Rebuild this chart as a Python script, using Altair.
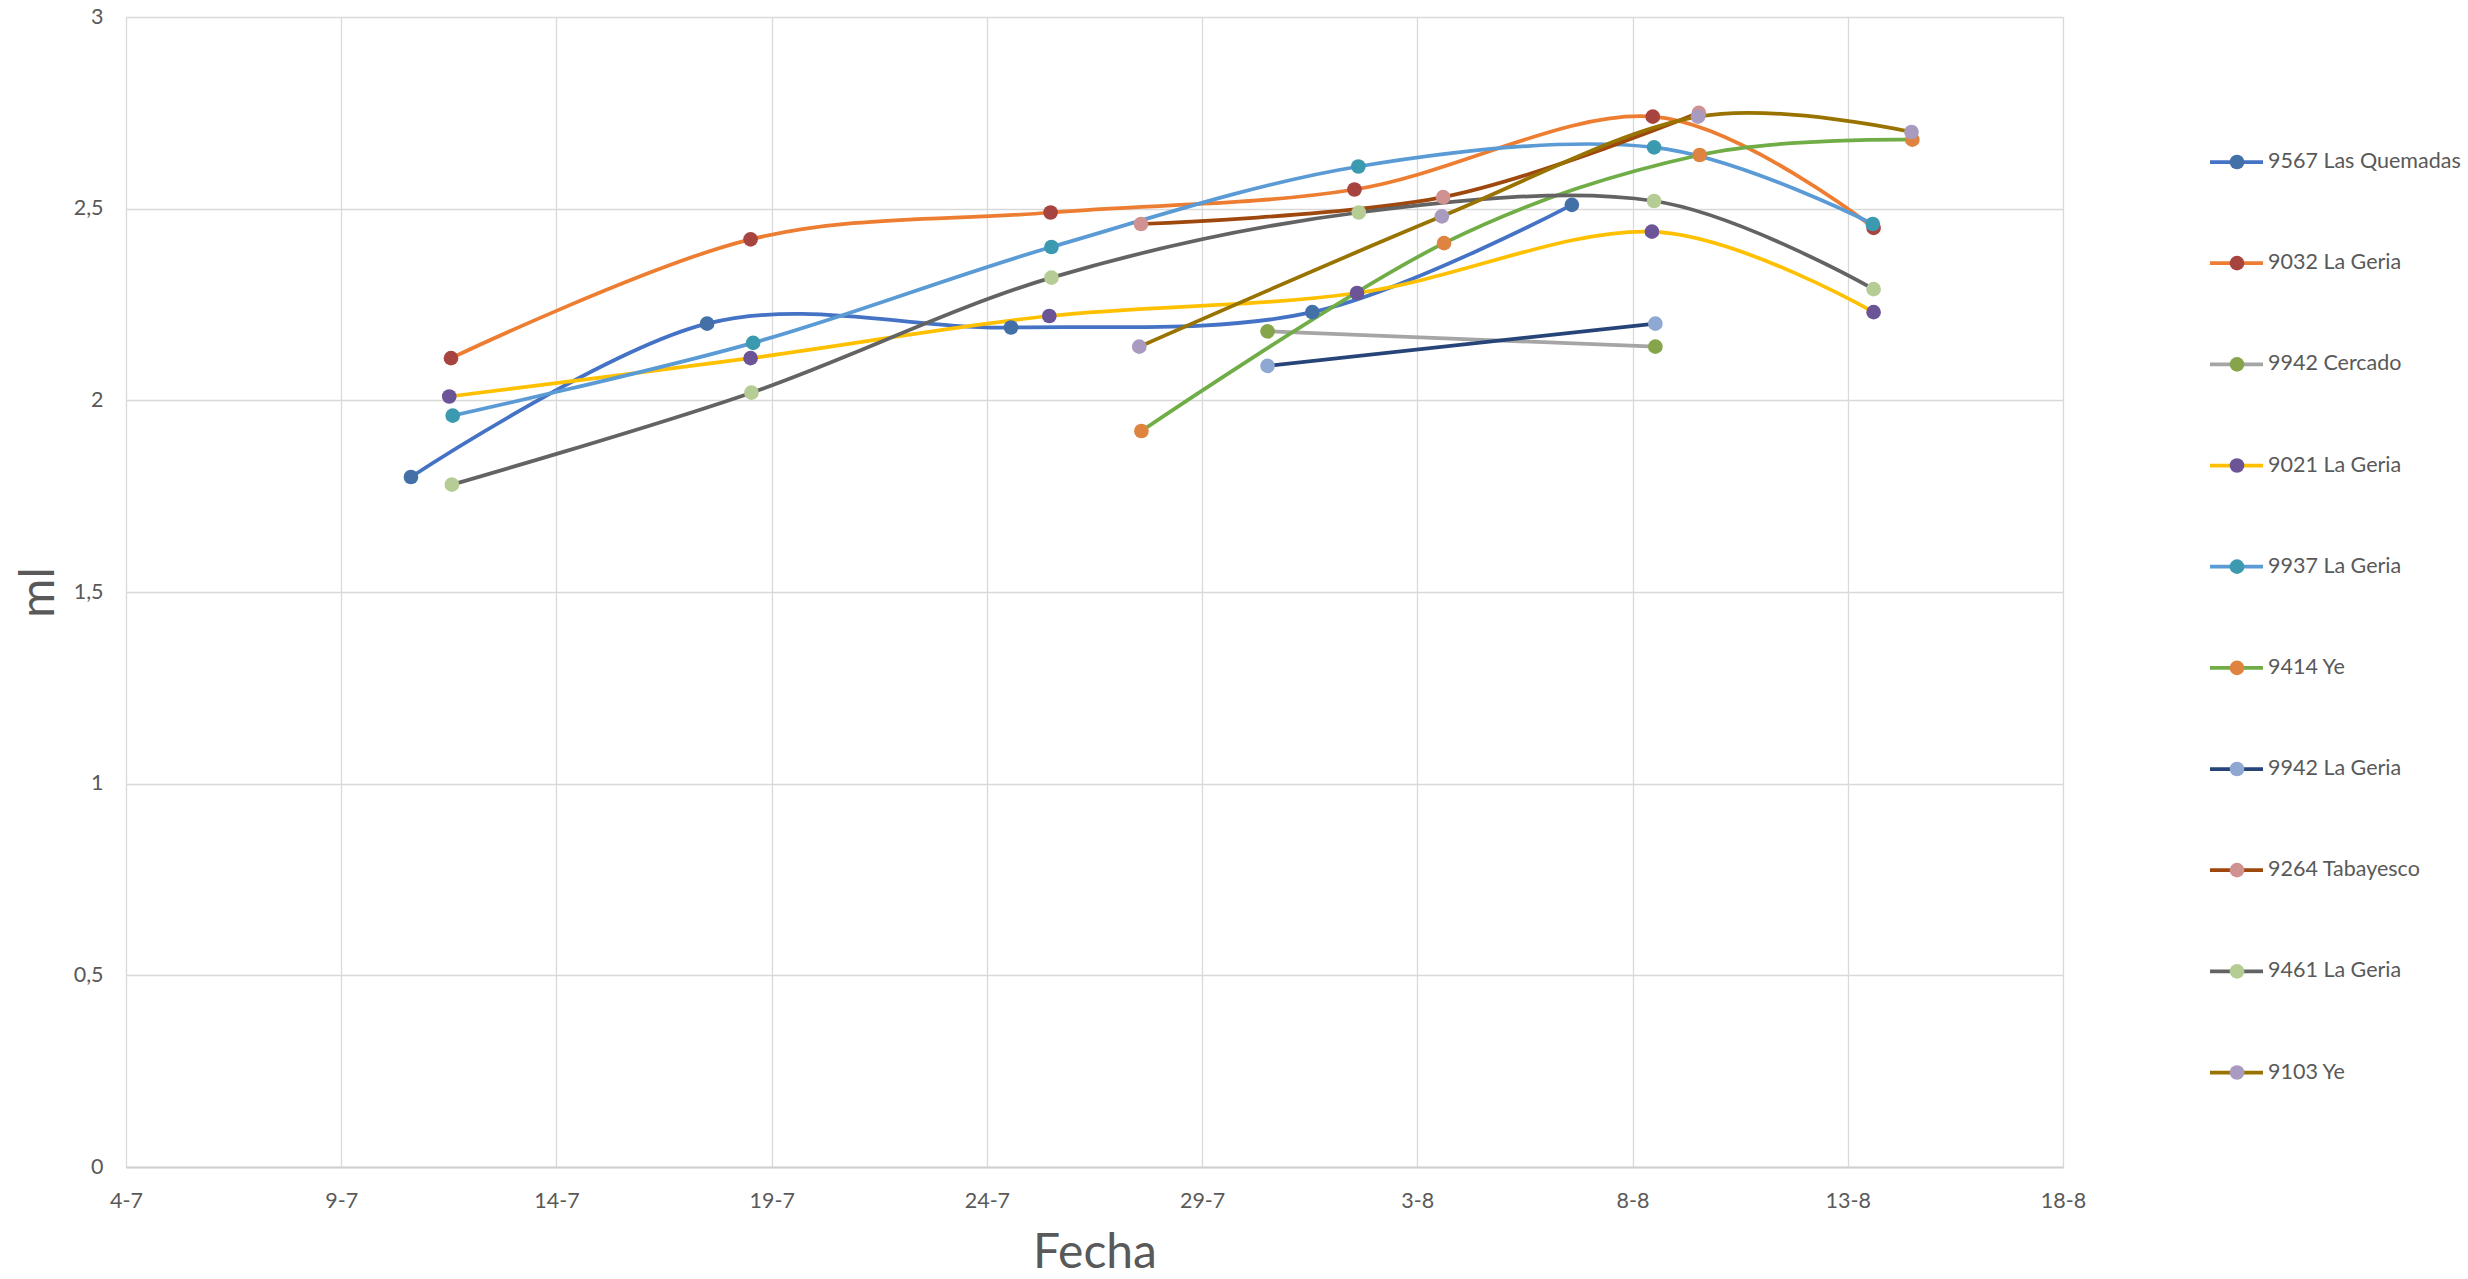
import altair as alt
import pandas as pd

# ---- data (x = day counted from 1 July; August d = 31 + d) ----
SERIES = ["9567 Las Quemadas", "9032 La Geria", "9942 Cercado", "9021 La Geria",
          "9937 La Geria", "9414 Ye", "9942 La Geria", "9264 Tabayesco",
          "9461 La Geria", "9103 Ye"]

LINE_COLORS = ["#4472C4", "#ED7D31", "#A5A5A5", "#FFC000", "#5B9BD5",
               "#70AD47", "#264478", "#9E480E", "#636363", "#997300"]
MARKER_COLORS = ["#4470A8", "#A8443F", "#86A54B", "#6B5596", "#3C9AB0",
                 "#DE8440", "#8FA8D2", "#D09290", "#B5CD95", "#A99AC0"]

DAYS = {
    "9567 Las Quemadas": [10.62, 17.50, 24.56, 31.56, 37.59],
    "9032 La Geria":     [11.55, 18.51, 25.48, 32.54, 39.47, 44.60],
    "9942 Cercado":      [30.52, 39.53],
    "9021 La Geria":     [11.51, 18.51, 25.45, 32.60, 39.45, 44.60],
    "9937 La Geria":     [11.59, 18.57, 25.50, 32.63, 39.50, 44.58],
    "9414 Ye":           [27.59, 34.62, 40.56, 45.50],
    "9942 La Geria":     [30.52, 39.53],
    "9264 Tabayesco":    [27.58, 34.60, 40.54],
    "9461 La Geria":     [11.57, 18.53, 25.50, 32.64, 39.50, 44.60],
    "9103 Ye":           [27.54, 34.57, 40.52, 45.48],
}
VALUES = {
    "9567 Las Quemadas": [1.80, 2.20, 2.19, 2.23, 2.51],
    "9032 La Geria":     [2.11, 2.42, 2.49, 2.55, 2.74, 2.45],
    "9942 Cercado":      [2.18, 2.14],
    "9021 La Geria":     [2.01, 2.11, 2.22, 2.28, 2.44, 2.23],
    "9937 La Geria":     [1.96, 2.15, 2.40, 2.61, 2.66, 2.46],
    "9414 Ye":           [1.92, 2.41, 2.64, 2.68],
    "9942 La Geria":     [2.09, 2.20],
    "9264 Tabayesco":    [2.46, 2.53, 2.75],
    "9461 La Geria":     [1.78, 2.02, 2.32, 2.49, 2.52, 2.29],
    "9103 Ye":           [2.14, 2.48, 2.74, 2.70],
}

X_TICKS = [4, 9, 14, 19, 24, 29, 34, 39, 44, 49]
Y_TICKS = [0, 0.5, 1, 1.5, 2, 2.5, 3]

rows = []
for s in SERIES:
    for d, v in zip(DAYS[s], VALUES[s]):
        rows.append({"series": s, "day": d, "value": v})
df = pd.DataFrame(rows)
leg_df = pd.DataFrame({"series": SERIES, "idx": list(range(len(SERIES)))})

# ---- style ----
W, H = 1937, 1150
FONT = "Lato"
TXT = "#595959"
GRID = "#D9D9D9"
LW = 3.75
MSIZE = 215

stroke_scale = alt.Scale(domain=SERIES, range=LINE_COLORS)
fill_scale = alt.Scale(domain=SERIES, range=MARKER_COLORS)

x_enc = alt.X(
    "day:Q",
    scale=alt.Scale(domain=[4, 49], nice=False, zero=False),
    axis=alt.Axis(
        values=X_TICKS,
        labelExpr="datum.value <= 31 ? datum.value + '-7' : (datum.value - 31) + '-8'",
        title="Fecha", grid=True, gridColor=GRID, gridWidth=1.3,
        domainColor="#D0D0D0", domainWidth=2, ticks=False,
        labelPadding=23, titlePadding=18, labelFontSize=21.5, titleFontSize=48,
        titleFontWeight="normal", labelColor=TXT, titleColor=TXT,
        labelFont=FONT, titleFont=FONT, labelFlush=False,
    ),
)
y_enc = alt.Y(
    "value:Q",
    scale=alt.Scale(domain=[0, 3], nice=False),
    axis=alt.Axis(
        values=Y_TICKS,
        labelExpr="replace(format(datum.value, '.1~f'), '.', ',')",
        title="ml", grid=True, gridColor=GRID, gridWidth=1.3,
        domain=False, ticks=False, labelPadding=23, titlePadding=10,
        labelFontSize=21.5, titleFontSize=48, titleFontWeight="normal",
        labelColor=TXT, titleColor=TXT, labelFont=FONT, titleFont=FONT,
    ),
)

lines = alt.Chart(df).mark_line(interpolate="cardinal", strokeWidth=LW).encode(
    x=x_enc, y=y_enc,
    stroke=alt.Stroke("series:N", scale=stroke_scale, legend=None),
)
points = alt.Chart(df).mark_circle(size=MSIZE, opacity=1).encode(
    x=x_enc, y=y_enc,
    fill=alt.Fill("series:N", scale=fill_scale, legend=None),
)
main = alt.layer(lines, points)

leg_y = alt.Y("idx:Q", scale=alt.Scale(domain=[0, len(SERIES) - 1], range=[145, 1055.5],
                                       nice=False, zero=False), axis=None)
leg_rule = alt.Chart(leg_df).mark_rule(strokeWidth=LW).encode(
    x=alt.value(2084), x2=alt.value(2137), y=leg_y,
    stroke=alt.Stroke("series:N", scale=stroke_scale, legend=None),
)
leg_pt = alt.Chart(leg_df).mark_circle(size=MSIZE, opacity=1).encode(
    x=alt.value(2111), y=leg_y,
    fill=alt.Fill("series:N", scale=fill_scale, legend=None),
)
leg_txt = alt.Chart(leg_df).mark_text(
    align="left", baseline="middle", font=FONT, fontSize=21.5, color=TXT
).encode(x=alt.value(2142), y=leg_y, text="series:N")
legend = alt.layer(leg_rule, leg_pt, leg_txt)

chart = alt.layer(main, legend).resolve_scale(y="independent").properties(
    width=W, height=H,
    autosize=alt.AutoSizeParams(type="none"),
    padding={"left": 126, "top": 17, "right": 405, "bottom": 112},
    background="white",
).configure_view(stroke=None)

chart.save("out.html", embed_options={"renderer": "svg", "actions": False})
